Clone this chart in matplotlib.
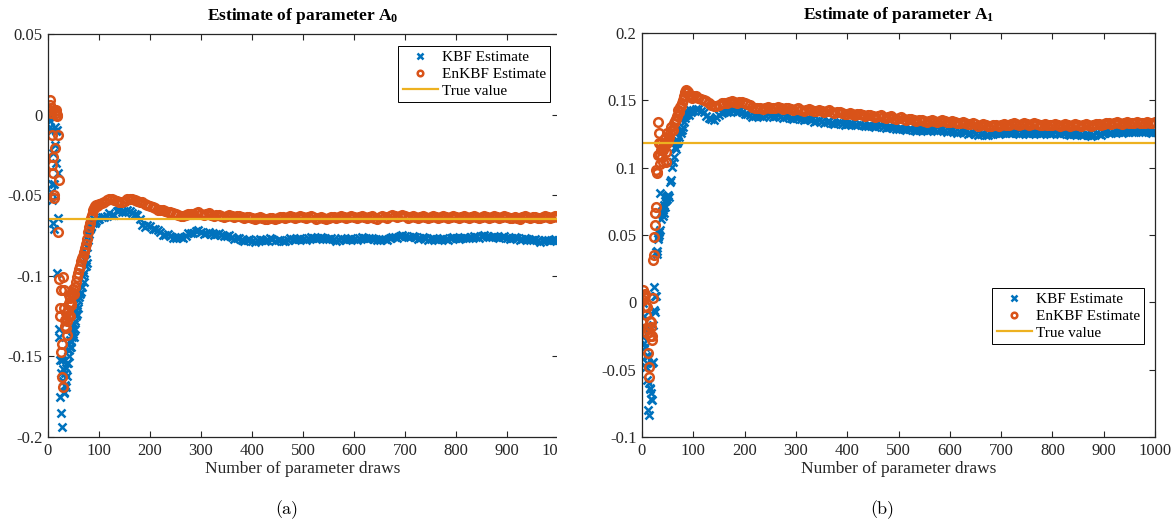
import numpy as np
import matplotlib
matplotlib.use('Agg')
import matplotlib.pyplot as plt
from matplotlib.ticker import FuncFormatter
from matplotlib.patches import Rectangle

# ---------------- data ----------------
true_a0 = -0.065
true_a1 = 0.118

late_draws = np.arange(100, 1001, 5)

# Panel (a): parameter A0
kbf_a0_early_draw = [1, 2, 3, 4, 5, 6, 7, 8, 9, 10, 11, 12, 13, 14, 15, 16, 17, 18, 19, 20,
                     21, 22, 23, 24, 25, 26, 27, 28, 29, 30, 31, 32, 33, 34, 35, 36, 37, 38, 39, 40,
                     41, 42, 43, 44, 45, 46, 47, 48, 49, 50, 51, 52, 53, 54, 55, 56, 57, 58, 59, 60,
                     62, 64, 66, 68, 70, 71, 72, 74, 75, 76, 77, 78, 79, 80, 82, 84, 85, 87, 89, 91,
                     93, 95, 97, 99]
kbf_a0_early_val = [-0.0015, 0.000, -0.008, -0.004, -0.048, -0.010, -0.053, -0.043, -0.024, -0.067,
                    -0.043, -0.071, -0.008, -0.019, -0.030, -0.010, -0.0095, -0.098, -0.064, -0.036,
                    -0.133, -0.138, -0.152, -0.175, -0.160, -0.185, -0.194, -0.152, -0.165, -0.158,
                    -0.172, -0.173, -0.168, -0.160, -0.169, -0.157, -0.154, -0.162, -0.146, -0.154,
                    -0.150, -0.146, -0.140, -0.144, -0.141, -0.144, -0.133, -0.138, -0.136, -0.138,
                    -0.130, -0.133, -0.128, -0.125, -0.121, -0.124, -0.118, -0.115, -0.120, -0.113,
                    -0.111, -0.110, -0.107, -0.100, -0.104, -0.098, -0.090, -0.094, -0.086, -0.082,
                    -0.092, -0.078, -0.0755, -0.074, -0.071, -0.069, -0.0695, -0.066, -0.067, -0.065,
                    -0.067, -0.066, -0.064, -0.065]
enkbf_a0_early_draw = [1, 2, 3, 4, 5, 6, 7, 8, 9, 10, 11, 12, 13, 14, 15, 16, 17, 18, 19, 20,
                       21, 22, 23, 24, 25, 26, 27, 28, 29, 30, 31, 32, 33, 34, 35, 36, 37, 38, 39, 40,
                       41, 42, 43, 44, 45, 46, 47, 48, 49, 50, 52, 54, 56, 58, 60, 62, 64, 66, 68, 70,
                       72, 74, 76, 78, 80, 82, 84, 86, 88, 90, 92, 94, 96, 98]
enkbf_a0_early_val = [0.003, 0.002, 0.006, 0.009, 0.004, 0.001, -0.0127, -0.031, -0.036, -0.026,
                      -0.052, -0.050, -0.021, 0.002, 0.001, 0.003, -0.001, 0.000, -0.073, -0.0127,
                      -0.0405, -0.102, -0.125, -0.120, -0.147, -0.109, -0.142, -0.163, -0.169, -0.101,
                      -0.109, -0.120, -0.1275, -0.131, -0.123, -0.1325, -0.128, -0.137, -0.121, -0.125,
                      -0.117, -0.112, -0.125, -0.114, -0.118, -0.117, -0.110, -0.112, -0.108, -0.111,
                      -0.107, -0.104, -0.1006, -0.098, -0.096, -0.094, -0.091, -0.089, -0.088, -0.085,
                      -0.083, -0.080, -0.077, -0.073, -0.070, -0.067, -0.064, -0.062, -0.059, -0.058,
                      -0.057, -0.056, -0.0565, -0.056]
kbf_a0_late_val = [
    -0.0645, -0.0633, -0.0635, -0.0628, -0.0612, -0.0624, -0.0620, -0.0598, -0.0592, -0.0607,
    -0.0605, -0.0590, -0.0598, -0.0612, -0.0615, -0.0624, -0.0650, -0.0686, -0.0700, -0.0685,
    -0.0690, -0.0710, -0.0712, -0.0715, -0.0728, -0.0745, -0.0745, -0.0740, -0.0752, -0.0767,
    -0.0766, -0.0760, -0.0762, -0.0764, -0.0750, -0.0734, -0.0735, -0.0733, -0.0722, -0.0717,
    -0.0728, -0.0740, -0.0735, -0.0729, -0.0740, -0.0748, -0.0738, -0.0733, -0.0745, -0.0756,
    -0.0752, -0.0748, -0.0760, -0.0772, -0.0768, -0.0764, -0.0775, -0.0784, -0.0778, -0.0774,
    -0.0782, -0.0788, -0.0779, -0.0774, -0.0780, -0.0785, -0.0776, -0.0767, -0.0774, -0.0784,
    -0.0780, -0.0776, -0.0782, -0.0787, -0.0776, -0.0767, -0.0773, -0.0778, -0.0770, -0.0764,
    -0.0771, -0.0777, -0.0767, -0.0759, -0.0765, -0.0774, -0.0768, -0.0760, -0.0764, -0.0773,
    -0.0770, -0.0765, -0.0774, -0.0782, -0.0776, -0.0768, -0.0772, -0.0777, -0.0769, -0.0763,
    -0.0771, -0.0775, -0.0766, -0.0758, -0.0764, -0.0772, -0.0768, -0.0763, -0.0772, -0.0781,
    -0.0775, -0.0769, -0.0774, -0.0778, -0.0768, -0.0758, -0.0762, -0.0766, -0.0756, -0.0748,
    -0.0754, -0.0762, -0.0758, -0.0753, -0.0761, -0.0770, -0.0765, -0.0759, -0.0768, -0.0776,
    -0.0770, -0.0764, -0.0772, -0.0778, -0.0770, -0.0763, -0.0771, -0.0776, -0.0768, -0.0761,
    -0.0767, -0.0773, -0.0765, -0.0758, -0.0763, -0.0768, -0.0760, -0.0751, -0.0757, -0.0763,
    -0.0755, -0.0748, -0.0754, -0.0762, -0.0758, -0.0753, -0.0761, -0.0768, -0.0762, -0.0756,
    -0.0764, -0.0771, -0.0766, -0.0760, -0.0768, -0.0776, -0.0771, -0.0766, -0.0773, -0.0781,
    -0.0776, -0.0772, -0.0780, -0.0788, -0.0783, -0.0776, -0.0779, -0.0784, -0.0777, -0.0771,
    -0.0780]
enkbf_a0_late_val = [
    -0.0555, -0.0550, -0.0540, -0.0528, -0.0522, -0.0521, -0.0528, -0.0538, -0.0542, -0.0542,
    -0.0535, -0.0526, -0.0522, -0.0523, -0.0530, -0.0538, -0.0540, -0.0544, -0.0552, -0.0563,
    -0.0568, -0.0572, -0.0580, -0.0589, -0.0592, -0.0593, -0.0598, -0.0605, -0.0606, -0.0608,
    -0.0615, -0.0624, -0.0628, -0.0629, -0.0622, -0.0615, -0.0614, -0.0616, -0.0611, -0.0607,
    -0.0616, -0.0624, -0.0619, -0.0613, -0.0622, -0.0631, -0.0625, -0.0620, -0.0627, -0.0634,
    -0.0629, -0.0624, -0.0630, -0.0637, -0.0632, -0.0627, -0.0635, -0.0642, -0.0638, -0.0633,
    -0.0641, -0.0648, -0.0643, -0.0638, -0.0644, -0.0650, -0.0645, -0.0639, -0.0643, -0.0647,
    -0.0640, -0.0633, -0.0638, -0.0643, -0.0636, -0.0629, -0.0634, -0.0640, -0.0633, -0.0627,
    -0.0634, -0.0641, -0.0636, -0.0631, -0.0638, -0.0645, -0.0641, -0.0636, -0.0643, -0.0649,
    -0.0641, -0.0634, -0.0638, -0.0643, -0.0636, -0.0629, -0.0635, -0.0641, -0.0634, -0.0627,
    -0.0633, -0.0639, -0.0634, -0.0629, -0.0636, -0.0643, -0.0638, -0.0632, -0.0639, -0.0645,
    -0.0637, -0.0630, -0.0635, -0.0639, -0.0632, -0.0625, -0.0630, -0.0635, -0.0629, -0.0625,
    -0.0632, -0.0639, -0.0634, -0.0629, -0.0636, -0.0642, -0.0635, -0.0628, -0.0634, -0.0640,
    -0.0633, -0.0627, -0.0634, -0.0641, -0.0636, -0.0631, -0.0637, -0.0643, -0.0636, -0.0629,
    -0.0635, -0.0641, -0.0634, -0.0628, -0.0633, -0.0639, -0.0634, -0.0629, -0.0635, -0.0641,
    -0.0636, -0.0630, -0.0635, -0.0640, -0.0634, -0.0628, -0.0635, -0.0642, -0.0637, -0.0632,
    -0.0638, -0.0644, -0.0639, -0.0634, -0.0640, -0.0646, -0.0638, -0.0631, -0.0637, -0.0643,
    -0.0638, -0.0633, -0.0639, -0.0644, -0.0637, -0.0631, -0.0636, -0.0641, -0.0637, -0.0632,
    -0.0638]

# Panel (b): parameter A1
kbf_a1_early_draw = [1, 2, 3, 4, 5, 6, 7, 8, 9, 10, 11, 12, 13, 14, 15, 16, 17, 18, 19, 20,
                     21, 22, 23, 24, 25, 26, 27, 28, 29, 30, 31, 32, 33, 34, 35, 36, 37, 38, 39, 40,
                     41, 42, 43, 44, 45, 46, 47, 48, 49, 50, 52, 54, 56, 58, 60, 62, 64, 66, 68, 70,
                     72, 74, 76, 78, 80, 82, 84, 86, 88, 90, 92, 94, 96, 98]
kbf_a1_early_val = [-0.0007, -0.0255, -0.010, -0.030, -0.033, -0.020, -0.040, -0.048, -0.045, -0.0576,
                    -0.040, -0.080, -0.060, -0.0836, -0.064, -0.0638, -0.072, -0.0675, -0.0725, -0.045,
                    -0.0168, -0.044, -0.006, 0.0117, 0.0044, -0.0069, 0.005, 0.0377, 0.036, 0.038,
                    0.047, 0.0488, 0.050, 0.0525, 0.081, 0.054, 0.062, 0.066, 0.068, 0.064,
                    0.070, 0.066, 0.072, 0.075, 0.071, 0.078, 0.076, 0.079, 0.077, 0.080,
                    0.078, 0.089, 0.091, 0.1007, 0.104, 0.108, 0.1156, 0.114, 0.118, 0.120,
                    0.123, 0.127, 0.126, 0.128, 0.130, 0.134, 0.137, 0.139, 0.140, 0.141,
                    0.139, 0.1428, 0.141, 0.142]
enkbf_a1_early_draw = [1, 2, 3, 4, 5, 6, 7, 8, 9, 10, 11, 12, 13, 14, 15, 16, 17, 18, 19, 20,
                       21, 22, 23, 24, 25, 26, 27, 28, 29, 30, 31, 32, 33, 34, 35, 36, 37, 38, 39, 40,
                       41, 42, 43, 44, 45, 46, 47, 48, 49, 50, 52, 54, 56, 58, 60, 62, 64, 66, 68, 70,
                       72, 74, 76, 78, 80, 82, 84, 86, 88, 90, 92, 94, 96, 98]
enkbf_a1_early_val = [0.0092, 0.0018, 0.004, 0.0055, -0.003, 0.006, -0.0094, -0.019, -0.0032, -0.0228,
                      -0.020, -0.0376, -0.0477, -0.0551, -0.025, -0.014, -0.018, -0.0143, -0.025, -0.028,
                      0.003, 0.0315, 0.0352, 0.0483, 0.0575, 0.066, 0.071, 0.0983, 0.097, 0.0958,
                      0.1094, 0.134, 0.118, 0.126, 0.1094, 0.103, 0.113, 0.118, 0.108, 0.113,
                      0.104, 0.116, 0.118, 0.122, 0.118, 0.104, 0.112, 0.118, 0.126, 0.120,
                      0.123, 0.126, 0.130, 0.128, 0.128, 0.133, 0.135, 0.136, 0.138, 0.143,
                      0.141, 0.145, 0.146, 0.148, 0.150, 0.153, 0.156, 0.158, 0.157, 0.156,
                      0.154, 0.153, 0.153, 0.152]
kbf_a1_late_val = [
    0.1430, 0.1438, 0.1432, 0.1418, 0.1410, 0.1385, 0.1372, 0.1360, 0.1355, 0.1375,
    0.1388, 0.1404, 0.1412, 0.1410, 0.1418, 0.1428, 0.1425, 0.1416, 0.1420, 0.1410,
    0.1400, 0.1402, 0.1392, 0.1378, 0.1380, 0.1391, 0.1382, 0.1376, 0.1388, 0.1395,
    0.1384, 0.1377, 0.1385, 0.1391, 0.1380, 0.1372, 0.1375, 0.1381, 0.1370, 0.1360,
    0.1366, 0.1373, 0.1362, 0.1354, 0.1358, 0.1364, 0.1352, 0.1342, 0.1346, 0.1352,
    0.1343, 0.1334, 0.1340, 0.1346, 0.1335, 0.1326, 0.1330, 0.1336, 0.1327, 0.1318,
    0.1324, 0.1330, 0.1322, 0.1314, 0.1320, 0.1325, 0.1316, 0.1307, 0.1313, 0.1319,
    0.1311, 0.1303, 0.1310, 0.1316, 0.1305, 0.1296, 0.1300, 0.1305, 0.1294, 0.1285,
    0.1290, 0.1297, 0.1287, 0.1279, 0.1285, 0.1290, 0.1281, 0.1272, 0.1278, 0.1284,
    0.1276, 0.1269, 0.1277, 0.1285, 0.1279, 0.1271, 0.1278, 0.1284, 0.1276, 0.1268,
    0.1274, 0.1280, 0.1270, 0.1261, 0.1266, 0.1271, 0.1262, 0.1253, 0.1258, 0.1262,
    0.1252, 0.1242, 0.1247, 0.1252, 0.1245, 0.1240, 0.1249, 0.1257, 0.1254, 0.1250,
    0.1258, 0.1266, 0.1260, 0.1254, 0.1261, 0.1268, 0.1260, 0.1252, 0.1258, 0.1264,
    0.1257, 0.1250, 0.1258, 0.1265, 0.1259, 0.1252, 0.1258, 0.1264, 0.1257, 0.1250,
    0.1256, 0.1262, 0.1255, 0.1248, 0.1254, 0.1260, 0.1253, 0.1246, 0.1251, 0.1256,
    0.1248, 0.1240, 0.1245, 0.1250, 0.1244, 0.1238, 0.1246, 0.1254, 0.1250, 0.1246,
    0.1255, 0.1263, 0.1260, 0.1256, 0.1264, 0.1271, 0.1266, 0.1260, 0.1267, 0.1274,
    0.1268, 0.1262, 0.1268, 0.1274, 0.1269, 0.1263, 0.1268, 0.1274, 0.1267, 0.1261,
    0.1268]
enkbf_a1_late_val = [
    0.1535, 0.1532, 0.1520, 0.1508, 0.1505, 0.1496, 0.1480, 0.1465, 0.1458, 0.1460,
    0.1468, 0.1478, 0.1480, 0.1480, 0.1486, 0.1494, 0.1490, 0.1482, 0.1486, 0.1485,
    0.1478, 0.1476, 0.1468, 0.1454, 0.1445, 0.1443, 0.1440, 0.1437, 0.1444, 0.1452,
    0.1446, 0.1440, 0.1446, 0.1452, 0.1444, 0.1436, 0.1441, 0.1446, 0.1437, 0.1429,
    0.1434, 0.1440, 0.1431, 0.1423, 0.1429, 0.1435, 0.1426, 0.1418, 0.1423, 0.1429,
    0.1421, 0.1414, 0.1419, 0.1425, 0.1415, 0.1406, 0.1411, 0.1416, 0.1406, 0.1397,
    0.1402, 0.1408, 0.1398, 0.1390, 0.1395, 0.1401, 0.1392, 0.1384, 0.1389, 0.1394,
    0.1386, 0.1378, 0.1383, 0.1389, 0.1379, 0.1370, 0.1375, 0.1381, 0.1371, 0.1362,
    0.1368, 0.1374, 0.1364, 0.1355, 0.1360, 0.1365, 0.1355, 0.1346, 0.1351, 0.1356,
    0.1348, 0.1341, 0.1347, 0.1353, 0.1346, 0.1339, 0.1345, 0.1351, 0.1344, 0.1337,
    0.1342, 0.1347, 0.1338, 0.1329, 0.1334, 0.1339, 0.1330, 0.1321, 0.1326, 0.1331,
    0.1322, 0.1313, 0.1318, 0.1322, 0.1314, 0.1307, 0.1312, 0.1318, 0.1315, 0.1311,
    0.1318, 0.1325, 0.1320, 0.1315, 0.1322, 0.1329, 0.1324, 0.1318, 0.1324, 0.1330,
    0.1323, 0.1316, 0.1322, 0.1328, 0.1321, 0.1314, 0.1320, 0.1326, 0.1320, 0.1314,
    0.1319, 0.1325, 0.1319, 0.1313, 0.1320, 0.1326, 0.1319, 0.1312, 0.1318, 0.1323,
    0.1317, 0.1311, 0.1316, 0.1321, 0.1317, 0.1312, 0.1318, 0.1325, 0.1321, 0.1317,
    0.1325, 0.1332, 0.1329, 0.1325, 0.1332, 0.1339, 0.1333, 0.1327, 0.1334, 0.1340,
    0.1334, 0.1328, 0.1335, 0.1341, 0.1335, 0.1329, 0.1334, 0.1340, 0.1335, 0.1329,
    0.1336]

xticks = [0, 100, 200, 300, 400, 500, 600, 700, 800, 900, 1000]
a0_yticks = [-0.2, -0.15, -0.1, -0.05, 0, 0.05]
a1_yticks = [-0.1, -0.05, 0, 0.05, 0.1, 0.15, 0.2]
titles = [r'Estimate of parameter A$_{\mathbf{0}}$', r'Estimate of parameter A$_{\mathbf{1}}$']
xlabel = 'Number of parameter draws'
legend_labels = ['KBF Estimate', 'EnKBF Estimate', 'True value']
captions = ['(a)', '(b)']

# ---------------- style ----------------
plt.rcParams.update({
    'font.family': ['Liberation Serif', 'DejaVu Serif'],
    'mathtext.fontset': 'custom',
    'mathtext.rm': 'Liberation Serif',
    'mathtext.bf': 'Liberation Serif:bold',
    'mathtext.it': 'Liberation Serif:italic',
    'axes.unicode_minus': False,
})
BLUE = '#0072BD'
ORANGE = '#D95319'
YELLOW = '#EDB120'
AXC = '#262626'

W, H = 1174, 526
fig = plt.figure(figsize=(W / 100, H / 100), dpi=100)


def add_ax(l, t, r, b):
    return fig.add_axes([l / W, 1 - b / H, (r - l) / W, (b - t) / H])


def draw(ax, kd, kv, ed, ev, truth, ylim, yticks, title, leg_xy):
    ax.plot(kd, kv, linestyle='none', marker='x', ms=6.3, mew=1.8, color=BLUE,
            label=legend_labels[0])
    ax.plot(ed, ev, linestyle='none', marker='o', ms=6.2, mew=1.8, mfc='none',
            color=ORANGE, label=legend_labels[1])
    ax.plot([xticks[0], xticks[-1]], [truth, truth], color=YELLOW, lw=1.6,
            label=legend_labels[2])
    ax.set_xlim(xticks[0], xticks[-1])
    ax.set_ylim(*ylim)
    ax.set_xticks(xticks)
    ax.set_yticks(yticks)
    ax.yaxis.set_major_formatter(FuncFormatter(lambda v, p: '{:g}'.format(round(v, 4))))
    ax.tick_params(direction='in', length=4.5, width=0.8, color=AXC, labelcolor=AXC,
                   labelsize=12, top=True, right=True, pad=4)
    for s in ax.spines.values():
        s.set_color(AXC)
        s.set_linewidth(0.9)
    ax.set_title(title, fontsize=12.5, fontweight='bold', pad=10, color='black')
    ax.set_xlabel(xlabel, fontsize=12.5, color=AXC, labelpad=2)
    leg = ax.legend(loc='upper left', bbox_to_anchor=(leg_xy[0] / W, 1 - leg_xy[1] / H),
                    bbox_transform=fig.transFigure, borderaxespad=0, fontsize=11,
                    fancybox=False, framealpha=1, edgecolor='black', handlelength=2.3,
                    handletextpad=0.25, labelspacing=0.2, borderpad=0.3, markerscale=0.65)
    leg.get_frame().set_linewidth(0.7)


ax0 = add_ax(48, 34, 558, 437)
ax1 = add_ax(642, 33, 1155, 437)

draw(ax0,
     list(kbf_a0_early_draw) + list(late_draws), kbf_a0_early_val + kbf_a0_late_val,
     list(enkbf_a0_early_draw) + list(late_draws), enkbf_a0_early_val + enkbf_a0_late_val,
     true_a0, (-0.2, 0.05), a0_yticks, titles[0], (398, 46))
draw(ax1,
     list(kbf_a1_early_draw) + list(late_draws), kbf_a1_early_val + kbf_a1_late_val,
     list(enkbf_a1_early_draw) + list(late_draws), enkbf_a1_early_val + enkbf_a1_late_val,
     true_a1, (-0.1, 0.2), a1_yticks, titles[1], (992, 288))

# left sub-figure is cropped at its right edge
fig.add_artist(Rectangle((557 / W, 0), 40 / W, 1, transform=fig.transFigure,
                         facecolor='white', edgecolor='none', zorder=10))

fig.text(287 / W, 1 - 510 / H, captions[0], ha='center', va='center',
         fontsize=13, family='cmr10')
fig.text(882 / W, 1 - 510 / H, captions[1], ha='center', va='center',
         fontsize=13, family='cmr10')

fig.savefig('out.png', dpi=100, facecolor='white')
